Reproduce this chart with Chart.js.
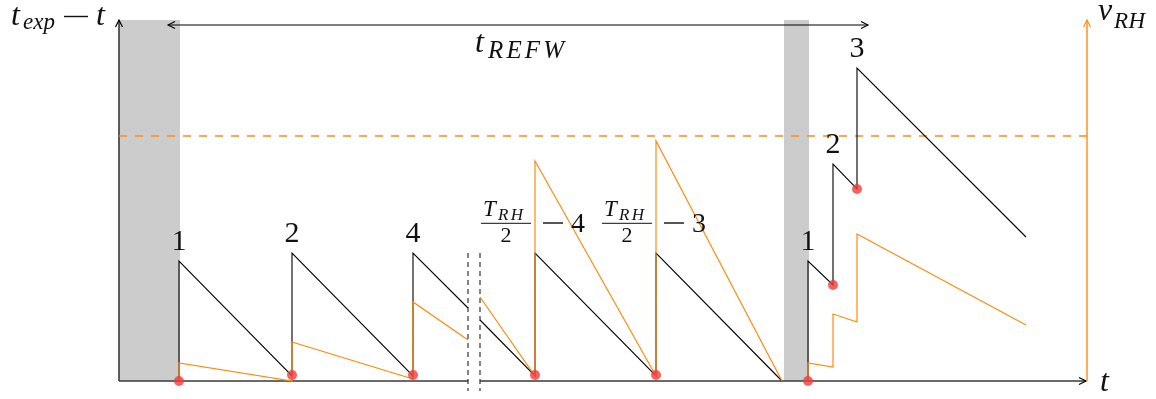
<!DOCTYPE html>
<html>
<head>
<meta charset="utf-8">
<script src="https://cdn.jsdelivr.net/npm/chart.js@4"></script>
<style>
  html, body { margin: 0; padding: 0; background: #fff; }
  #wrap { width: 1156px; height: 399px; }
</style>
</head>
<body>
<div id="wrap"><canvas id="chart_1" width="1156" height="399"></canvas></div>
<script>
// time / counter values (y = null breaks the line)
var counterT = [6, 6, 17.3, 17.3, 29.4, 29.4, 34.9, 35.5, 36.1, 41.6, 41.6, 53.7, 53.7, 66.3, 67.6, 68.9, 68.9, 71.4, 71.4, 73.8, 73.8, 90.7];
var counterV = [0, 12, 0.5, 12.8, 0.5, 12.8, 7.3, null, 6.1, 0.5, 12.8, 0.5, 12.8, 0, null, 0, 12, 9.6, 21.7, 19.2, 31.3, 14.4];

// refresh rate v_RH
var rateT = [6, 6, 17.3, 17.3, 29.4, 29.4, 34.9, 35.5, 36.1, 41.6, 41.6, 53.7, 53.7, 66.3, 67.6, 68.9, 68.9, 71.4, 71.4, 73.8, 73.8, 90.7];
var rateV = [0, 1.8, 0, 3.9, 0.2, 7.9, 4.1, null, 8.4, 0.5, 22.0, 0.5, 24.0, 0, null, 0, 1.8, 1.4, 6.7, 5.9, 14.7, 5.6];

// refresh instants
var resetT = [6, 17.3, 29.4, 41.6, 53.7, 68.9, 71.4, 73.8];
var resetV = [0, 0.6, 0.6, 0.6, 0.6, 0, 9.6, 19.2];

// labels over each peak
var peakT = [6, 17.3, 29.4, 41.6, 53.7, 68.9, 71.4, 73.8];
var peakV = [12, 12.8, 12.8, 12.8, 12.8, 12, 21.7, 31.3];
var peakLabels = ['1', '2', '4', 'T_RH/2 - 4', 'T_RH/2 - 3', '1', '2', '3'];

var threshold = 24.5;
var grayBands = [[0, 6.1], [66.5, 69.0]];
var refwSpan = [4.9, 74.9];
var breakT = [34.9, 36.1];
var xEnd = 96.7, rateAxisT = 96.8, yTop = 36.1;

var black = '#000000';
var orange = '#ff8a10';
var axisCol = '#3a3a3a';
var serif = '"Liberation Serif", "DejaVu Serif", serif';

function pts(xs, ys) {
  return xs.map(function (x, i) { return { x: x, y: ys[i] }; });
}

function arrowHead(ctx, x, y, dir) {
  ctx.save();
  ctx.translate(x, y);
  if (dir === 'up') ctx.rotate(-Math.PI / 2);
  if (dir === 'left') ctx.rotate(Math.PI);
  ctx.beginPath();
  ctx.moveTo(-7, -3.5);
  ctx.quadraticCurveTo(-2, -1, 0, 0);
  ctx.quadraticCurveTo(-2, 1, -7, 3.5);
  ctx.stroke();
  ctx.restore();
}

// left-aligned text; w spreads the letters out to that width
function txt(ctx, s, x, y, font, w) {
  ctx.save();
  ctx.font = font;
  ctx.textAlign = 'left';
  ctx.textBaseline = 'alphabetic';
  if (w && s.length > 1) {
    var nat = ctx.measureText(s).width;
    var gap = Math.max(0, (w - nat) / (s.length - 1));
    var cx = x;
    for (var i = 0; i < s.length; i++) {
      ctx.fillText(s[i], cx, y);
      cx += ctx.measureText(s[i]).width + gap;
    }
  } else {
    ctx.fillText(s, x, y);
  }
  ctx.restore();
}

function minus(ctx, x1, x2, y) {
  ctx.fillRect(x1, y - 0.7, x2 - x1, 1.4);
}

function fracLabel(ctx, c, py, tail) {
  txt(ctx, 'T', c - 52, py - 37, 'italic 23px ' + serif);
  txt(ctx, 'RH', c - 37, py - 33, 'italic 17px ' + serif, 25);
  ctx.fillRect(c - 54, py - 30.2, 50, 1);
  ctx.save();
  ctx.font = '22px ' + serif;
  ctx.textAlign = 'center';
  ctx.fillText('2', c - 29, py - 11);
  ctx.restore();
  minus(ctx, c + 8, c + 28, py - 30);
  txt(ctx, tail, c + 36, py - 21, '28px ' + serif);
}

var diagram = {
  id: 'diagram',
  beforeDatasetsDraw: function (chart) {
    var ctx = chart.ctx, xs = chart.scales.x, ys = chart.scales.y;
    var X = function (v) { return xs.getPixelForValue(v); };
    var Y = function (v) { return ys.getPixelForValue(v); };
    ctx.save();
    // grey refresh windows
    ctx.fillStyle = '#cccccc';
    grayBands.forEach(function (b) {
      ctx.fillRect(X(b[0]), Y(yTop), X(b[1]) - X(b[0]), Y(0) - Y(yTop));
    });
    // axes
    ctx.strokeStyle = axisCol;
    ctx.lineWidth = 1.6;
    ctx.beginPath();
    ctx.moveTo(X(0), Y(0));
    ctx.lineTo(X(0), Y(yTop));
    ctx.moveTo(X(0), Y(0));
    ctx.lineTo(X(breakT[0]), Y(0));
    ctx.moveTo(X(breakT[1]), Y(0));
    ctx.lineTo(X(xEnd), Y(0));
    ctx.stroke();
    ctx.lineWidth = 1.2;
    ctx.strokeStyle = black;
    arrowHead(ctx, X(0), Y(yTop), 'up');
    arrowHead(ctx, X(xEnd), Y(0), 'right');
    // axis break
    ctx.setLineDash([5, 4]);
    ctx.strokeStyle = '#222';
    ctx.lineWidth = 1.1;
    ctx.beginPath();
    breakT.forEach(function (t) {
      ctx.moveTo(X(t), Y(12.8));
      ctx.lineTo(X(t), Y(-1.0));
    });
    ctx.stroke();
    ctx.setLineDash([]);
    // v_RH axis
    ctx.strokeStyle = orange;
    ctx.lineWidth = 1.4;
    ctx.beginPath();
    ctx.moveTo(X(rateAxisT), Y(0));
    ctx.lineTo(X(rateAxisT), Y(yTop));
    ctx.stroke();
    ctx.lineWidth = 1.1;
    arrowHead(ctx, X(rateAxisT), Y(yTop), 'up');
    ctx.restore();
  },
  afterDatasetsDraw: function (chart) {
    var ctx = chart.ctx, xs = chart.scales.x, ys = chart.scales.y;
    var X = function (v) { return xs.getPixelForValue(v); };
    var Y = function (v) { return ys.getPixelForValue(v); };
    ctx.save();
    ctx.fillStyle = '#111';
    // t_REFW span
    ctx.strokeStyle = black;
    ctx.lineWidth = 1.1;
    var ay = Y(35.6);
    ctx.beginPath();
    ctx.moveTo(X(refwSpan[0]), ay);
    ctx.lineTo(X(refwSpan[1]), ay);
    ctx.stroke();
    arrowHead(ctx, X(refwSpan[0]), ay, 'left');
    arrowHead(ctx, X(refwSpan[1]), ay, 'right');
    var c = X(40.6), b = Y(32.8);
    txt(ctx, 't', c - 50, b - 1, 'italic 32px ' + serif);
    txt(ctx, 'REFW', c - 37, b + 4.5, 'italic 25px ' + serif, 76);

    // y axis title
    var x0 = X(0), yt = Y(35.6);
    txt(ctx, 't', x0 - 108, yt, 'italic 32px ' + serif);
    txt(ctx, 'exp', x0 - 96, yt + 4, 'italic 23px ' + serif, 32);
    minus(ctx, x0 - 55, x0 - 31, yt - 8.5);
    txt(ctx, 't', x0 - 23, yt, 'italic 32px ' + serif);

    // v_RH title
    var xr = X(rateAxisT), yv = Y(36.1);
    txt(ctx, 'v', xr + 11, yv, 'italic 32px ' + serif);
    txt(ctx, 'RH', xr + 27, yv + 8, 'italic 23px ' + serif, 31);

    // t axis title
    txt(ctx, 't', X(xEnd) + 14, Y(-1.0), 'italic 32px ' + serif);

    // peak labels
    peakLabels.forEach(function (lab, i) {
      var px = X(peakT[i]), py = Y(peakV[i]);
      if (lab.indexOf('T_RH') === 0) {
        fracLabel(ctx, px, py, lab.slice(-1));
      } else {
        ctx.font = '30px ' + serif;
        ctx.textAlign = 'center';
        ctx.textBaseline = 'alphabetic';
        ctx.fillText(lab, px, py - 11);
      }
    });
    ctx.restore();
  }
};

var myChart = new Chart('chart_1', {
  type: 'line',
  data: {
    datasets: [
      {
        label: 'resets',
        data: pts(resetT, resetV),
        showLine: false,
        pointRadius: 5,
        pointBackgroundColor: 'rgba(240, 60, 60, 0.8)',
        pointBorderWidth: 0,
        order: 0
      },
      {
        label: 'v_RH',
        data: pts(rateT, rateV),
        borderColor: orange,
        borderWidth: 1.2,
        pointRadius: 0,
        spanGaps: false,
        order: 1
      },
      {
        label: 'counter',
        data: pts(counterT, counterV),
        borderColor: black,
        borderWidth: 1.1,
        pointRadius: 0,
        spanGaps: false,
        order: 2
      },
      {
        label: 'threshold',
        data: [{ x: 0, y: threshold }, { x: rateAxisT, y: threshold }],
        borderColor: orange,
        borderWidth: 1.4,
        borderDash: [8, 8],
        pointRadius: 0,
        order: 3
      }
    ]
  },
  options: {
    responsive: false,
    animation: false,
    devicePixelRatio: 1,
    layout: { padding: 0, autoPadding: false },
    elements: { line: { tension: 0 } },
    scales: {
      x: { type: 'linear', min: -11.9, max: 103.7, display: false },
      y: { type: 'linear', min: -1.8, max: 38.1, display: false }
    },
    plugins: {
      legend: { display: false },
      tooltip: { enabled: false }
    }
  },
  plugins: [diagram]
});
</script>
</body>
</html>
